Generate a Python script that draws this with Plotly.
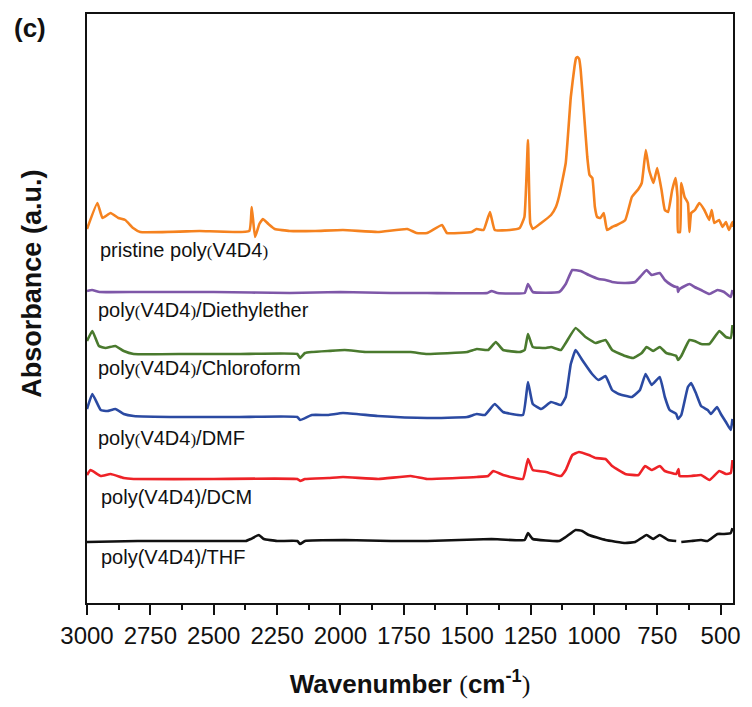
import plotly.graph_objects as go

# FTIR spectra (relative absorbance above each baseline, arbitrary units)
wn_pristine = [3000, 2959, 2939, 2907, 2876, 2849, 2818, 2790, 2556, 2360, 2350, 2337, 2320, 2306, 2284,
               2259, 2200, 2100, 1990, 1853, 1736, 1700, 1658, 1599, 1580, 1482, 1463, 1435, 1410, 1391,
               1332, 1293, 1274, 1260, 1251, 1241, 1208, 1169, 1150, 1138, 1111, 1091, 1076, 1070, 1065,
               1058, 1052, 1039, 1026, 1017, 1006, 996, 987, 974, 961, 948, 928, 909, 876, 850, 824, 811,
               795, 782, 765, 750, 733, 720, 707, 691, 678, 670, 668, 660, 655, 642, 629, 623, 616, 601,
               584, 564, 545, 535, 525, 506, 492, 479, 467, 453, 451]
abs_pristine = [0.03, 0.29, 0.14, 0.19, 0.14, 0.12, 0.04, 0.0, 0.01, 0.01, 0.25, -0.05, 0.08, 0.13, 0.08,
                0.03, 0.01, 0.01, 0.02, 0.0, 0.03, -0.01, -0.01, 0.07, -0.01, 0.0, 0.03, 0.02, 0.20, 0.02,
                0.02, 0.04, 0.15, 0.92, 0.09, 0.03, 0.09, 0.17, 0.25, 0.35, 0.69, 1.35, 1.66, 1.74, 1.75,
                1.73, 1.62, 1.19, 0.75, 0.57, 0.54, 0.25, 0.15, 0.14, 0.19, 0.02, 0.05, 0.07, 0.12, 0.35,
                0.43, 0.49, 0.82, 0.62, 0.49, 0.64, 0.42, 0.22, 0.20, 0.42, 0.54, 0.35, 0.0, 0.0, 0.49,
                0.35, 0.29, 0.0, 0.19, 0.22, 0.29, 0.22, 0.12, 0.22, 0.09, 0.12, 0.05, 0.10, 0.02, 0.10,
                0.05]

wn_ether = [3000, 2980, 2950, 2800, 2500, 2200, 2000, 1800, 1658, 1420, 1404, 1380, 1273, 1260, 1241,
            1137, 1111, 1085, 1052, 1020, 981, 954, 928, 876, 837, 818, 792, 772, 740, 720, 694, 675,
            670, 668, 662, 623, 603, 577, 544, 512, 486, 460, 453]
abs_ether = [0.02, 0.03, 0.01, 0.01, 0.01, 0.0, 0.01, 0.0, 0.0, 0.0, 0.02, 0.0, 0.0, 0.09, 0.01,
             0.01, 0.09, 0.23, 0.22, 0.18, 0.14, 0.13, 0.11, 0.10, 0.11, 0.16, 0.23, 0.18, 0.20, 0.13,
             0.08, 0.06, 0.06, 0.01, 0.04, 0.09, 0.06, 0.03, -0.01, 0.03, 0.01, -0.04, 0.03]

wn_chloro = [3000, 2979, 2953, 2927, 2888, 2855, 2816, 2600, 2400, 2170, 2159, 2140, 2113, 2050, 1983,
             1900, 1723, 1658, 1500, 1462, 1417, 1387, 1358, 1293, 1273, 1260, 1241, 1189, 1169, 1130,
             1111, 1072, 1033, 993, 954, 928, 876, 844, 811, 792, 766, 740, 714, 675, 668, 655, 623,
             603, 577, 544, 505, 479, 460, 453]
abs_chloro = [0.13, 0.23, 0.08, 0.06, 0.08, 0.03, 0.0, 0.0, 0.0, 0.0, -0.04, 0.01, 0.02, 0.03, 0.04,
              0.02, 0.02, 0.0, 0.02, 0.05, 0.04, 0.12, 0.04, 0.02, 0.04, 0.20, 0.07, 0.06, 0.07, 0.04,
              0.11, 0.26, 0.17, 0.11, 0.14, 0.04, -0.02, -0.04, 0.01, 0.07, 0.03, 0.07, 0.01, -0.02,
              -0.06, -0.02, 0.14, 0.13, 0.10, 0.10, 0.23, 0.17, 0.16, 0.29]

wn_dmf = [3000, 2979, 2946, 2920, 2888, 2855, 2816, 2634, 2400, 2170, 2159, 2113, 2050, 1990, 1853,
          1658, 1500, 1462, 1430, 1391, 1358, 1280, 1260, 1241, 1208, 1169, 1130, 1111, 1091, 1072,
          1046, 1007, 981, 954, 928, 902, 850, 818, 796, 772, 740, 720, 701, 675, 668, 655, 629, 616,
          596, 577, 551, 538, 514, 499, 479, 460, 453]
abs_dmf = [0.09, 0.24, 0.08, 0.07, 0.09, 0.04, 0.02, 0.01, 0.01, 0.01, -0.02, 0.03, 0.03, 0.05, 0.02,
           0.0, 0.01, 0.04, 0.03, 0.14, 0.06, 0.03, 0.36, 0.14, 0.09, 0.16, 0.13, 0.21, 0.54, 0.68,
           0.58, 0.44, 0.38, 0.42, 0.28, 0.24, 0.21, 0.28, 0.44, 0.33, 0.41, 0.21, 0.08, 0.04, -0.01,
           0.03, 0.31, 0.35, 0.24, 0.12, 0.08, 0.04, 0.11, 0.04, -0.04, -0.12, -0.01]

wn_dcm = [3000, 2986, 2946, 2907, 2855, 2816, 2500, 2170, 2159, 2140, 2048, 1990, 1850, 1723, 1658,
          1462, 1417, 1397, 1358, 1280, 1260, 1241, 1189, 1130, 1111, 1085, 1059, 1020, 993, 954, 928,
          876, 824, 798, 772, 740, 720, 675, 666, 662, 616, 577, 544, 505, 479, 460, 453]
abs_dcm = [0.04, 0.09, 0.03, 0.05, 0.01, 0.0, 0.0, 0.0, -0.02, 0.0, 0.01, 0.02, 0.0, 0.03, 0.0,
           0.02, 0.03, 0.08, 0.04, 0.0, 0.20, 0.09, 0.07, 0.03, 0.09, 0.24, 0.27, 0.24, 0.21, 0.20,
           0.13, 0.05, 0.04, 0.13, 0.09, 0.13, 0.08, 0.05, 0.10, 0.03, 0.03, 0.04, -0.01, 0.08, 0.05,
           0.06, 0.19]

wn_thf = [3000, 2800, 2400, 2374, 2354, 2322, 2302, 2250, 2170, 2159, 2140, 1983, 1800, 1658, 1404,
          1273, 1260, 1241, 1137, 1111, 1072, 1046, 1020, 954, 876, 837, 792, 766, 740, 707, 675, 668,
          662, 655, 616, 577, 551, 512, 486, 460, 453]
abs_thf = [-0.01, 0.0, 0.0, 0.0, 0.02, 0.06, 0.02, 0.0, 0.0, -0.03, 0.0, 0.01, 0.0, 0.0, 0.02,
           0.01, 0.08, 0.02, 0.0, 0.04, 0.11, 0.10, 0.06, 0.01, -0.02, -0.01, 0.06, 0.02, 0.06, 0.01,
           0.0, None, None, -0.01, 0.0, 0.01, 0.0, 0.07, 0.07, 0.08, 0.13]

# vertical stacking offsets for each spectrum
offsets = [3.71, 3.10, 2.49, 1.85, 1.24, 0.62]
colors = ["#F5821F", "#7E57A8", "#4A7A2E", "#2B4AA2", "#EE2227", "#111111"]

serif = "font-family:'Liberation Serif',serif;font-size:17px"
labels = [
    f"pristine poly<span style=\"{serif}\">(</span>V4D4<span style=\"{serif}\">)</span>",
    f"poly<span style=\"{serif}\">(</span>V4D4<span style=\"{serif}\">)</span>/Diethylether",
    f"poly<span style=\"{serif}\">(</span>V4D4<span style=\"{serif}\">)</span>/Chloroform",
    f"poly<span style=\"{serif}\">(</span>V4D4<span style=\"{serif}\">)</span>/DMF",
    "poly(V4D4)/DCM",
    "poly(V4D4)/THF",
]
label_x = [2958, 2966, 2966, 2966, 2951, 2951]
label_y = [3.53, 2.93, 2.35, 1.65, 1.06, 0.46]

series = [(wn_pristine, abs_pristine), (wn_ether, abs_ether), (wn_chloro, abs_chloro),
          (wn_dmf, abs_dmf), (wn_dcm, abs_dcm), (wn_thf, abs_thf)]

tick_vals = [3000, 2750, 2500, 2250, 2000, 1750, 1500, 1250, 1000, 750, 500]
tick_text = [str(v) for v in tick_vals]

fig = go.Figure()
for (wn, ab), off, col in zip(series, offsets, colors):
    fig.add_trace(go.Scatter(
        x=wn, y=[None if a is None else a + off for a in ab],
        mode="lines", line=dict(color=col, width=2.6, shape="spline", smoothing=0.35),
        connectgaps=False, showlegend=False, hoverinfo="skip"))

for txt, lx, ly in zip(labels, label_x, label_y):
    fig.add_annotation(x=lx, y=ly, xref="x", yref="y", text=txt, showarrow=False,
                       xanchor="left", yanchor="middle",
                       font=dict(family="Liberation Sans, Arial", size=20, color="#111111"))

# panel tag
fig.add_annotation(x=-0.0875, y=0.976, xref="paper", yref="paper", text="<b>(c)</b>",
                   showarrow=False, xanchor="center", yanchor="middle",
                   font=dict(family="Liberation Sans, Arial", size=26, color="#111111"))

# y-axis title, placed as a rotated annotation
fig.add_annotation(x=-0.0844, y=0.543, xref="paper", yref="paper",
                   text="<b>Absorbance (a.u.)</b>", textangle=-90, showarrow=False,
                   xanchor="center", yanchor="middle",
                   font=dict(family="Liberation Sans, Arial", size=27, color="#111111"))

fig.update_layout(
    width=752, height=707,
    margin=dict(l=87, r=13, t=14, b=104),
    paper_bgcolor="white", plot_bgcolor="white",
    font=dict(family="Liberation Sans, Arial", color="#111111"),
    xaxis=dict(
        range=[3000, 451], autorange=False,
        tickmode="array", tickvals=tick_vals, ticktext=tick_text,
        ticks="outside", ticklen=10, tickwidth=2, tickcolor="#111111",
        minor=dict(ticks="outside", ticklen=5, tickwidth=2, tickcolor="#111111", dtick=125,
                   tick0=3000, showgrid=False),
        tickfont=dict(size=24, family="Liberation Sans, Arial"),
        showline=True, linecolor="#111111", linewidth=2, mirror=True,
        showgrid=False, zeroline=False,
        title=dict(
            text=("<b>Wavenumber </b><span style=\"font-family:'Liberation Serif',serif\">(</span>"
                  "<b>cm<sup>-1</sup></b><span style=\"font-family:'Liberation Serif',serif\">)</span>"),
            font=dict(size=26, family="Liberation Sans, Arial"), standoff=27),
    ),
    yaxis=dict(
        range=[0, 5.89], autorange=False,
        showticklabels=False, ticks="",
        showline=True, linecolor="#111111", linewidth=2, mirror=True,
        showgrid=False, zeroline=False,
    ),
)

fig.write_html("out.html")
